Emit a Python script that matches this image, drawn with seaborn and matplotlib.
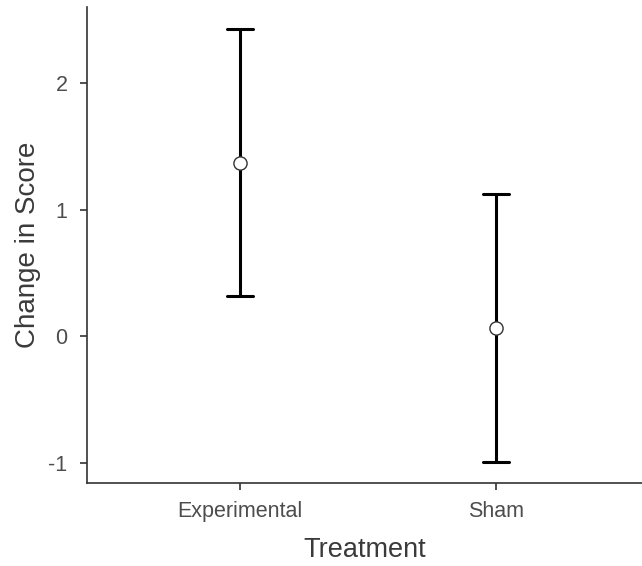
import matplotlib
matplotlib.use("Agg")
import matplotlib.pyplot as plt
import seaborn as sns
import pandas as pd
import numpy as np

categories = ["Experimental", "Sham"]
means = [1.37, 0.07]
lower = [0.315, -0.99]
upper = [2.425, 1.125]

sns.set_theme(style="ticks")
plt.rcParams["font.family"] = ["Liberation Sans", "DejaVu Sans"]

rows = []
for c, lo, m, hi in zip(categories, lower, means, upper):
    for v in (lo, m, hi):
        rows.append({"Treatment": c, "Change": v})
df = pd.DataFrame(rows)

fig = plt.figure(figsize=(6.42, 5.66), dpi=100)
ax = fig.add_axes([0.1355, 0.147, 0.8645, 0.841])

sns.pointplot(data=df, x="Treatment", y="Change", order=categories,
              estimator=np.median, errorbar=lambda x: (np.min(x), np.max(x)),
              linestyle="none", color="black", capsize=0.1,
              err_kws={"linewidth": 2.2},
              marker="o", markersize=9.5, markerfacecolor="white",
              markeredgecolor="#333333", markeredgewidth=1.0, ax=ax)

for ln in ax.lines:
    if ln.get_marker() == "o":
        ln.set_zorder(10)
        ln.set_markerfacecolor("white")
        ln.set_markeredgecolor("#333333")

ax.set_xlim(-0.598, 1.57)
ax.set_ylim(-1.155, 2.60)
ax.set_yticks([-1, 0, 1, 2])
ax.set_yticklabels(["-1", "0", "1", "2"])
ax.set_xlabel("Treatment", fontsize=19.5, color="#3a3a3a", labelpad=11)
ax.set_ylabel("Change in Score", fontsize=20, color="#3a3a3a", labelpad=5)
ax.tick_params(axis="both", labelsize=15.5, labelcolor="#4d4d4d", color="#333333",
               length=5, width=1.2)
ax.tick_params(axis="x", pad=8)
ax.tick_params(axis="y", pad=9)
for s in ["top", "right"]:
    ax.spines[s].set_visible(False)
for s in ["left", "bottom"]:
    ax.spines[s].set_color("#333333")
    ax.spines[s].set_linewidth(1.2)

fig.savefig("out.png", dpi=100)
